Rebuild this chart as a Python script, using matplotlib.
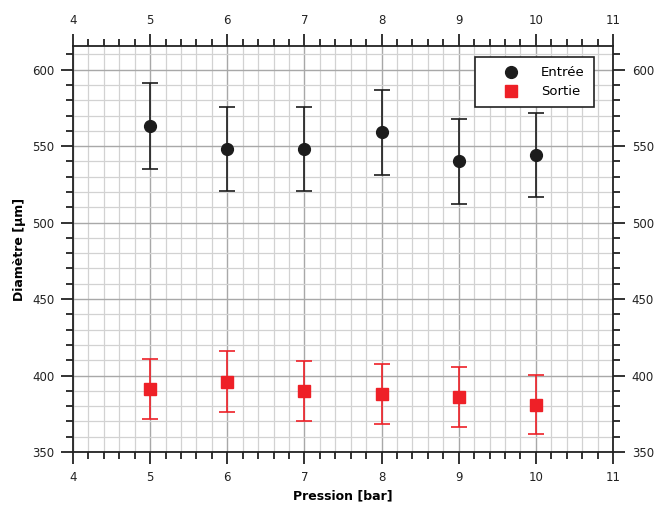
import numpy as np
import matplotlib.pyplot as plt
from matplotlib.ticker import MultipleLocator
from matplotlib.lines import Line2D

# pression values (bar)
pression = [5, 6, 7, 8, 9, 10]

# diameter at the inlet and its error
entree = [563, 548, 548, 559, 540, 544]
entree_err = [28, 27.5, 27.5, 28, 27.5, 27.5]

# diameter at the outlet and its error
sortie = [391, 396, 390, 388, 386, 381]
sortie_err = [19.7, 20, 19.5, 19.5, 19.5, 19.2]

black = '#1c1c1c'
red = '#ee2027'

fig = plt.figure(figsize=(6.56, 5.08), dpi=100)
ax = fig.add_axes([73/656, 1 - 452/508, 540/656, 406/508])

ax.errorbar(pression, entree, yerr=entree_err, fmt='o', color=black,
            ms=8.5, capsize=6, elinewidth=1.2, capthick=1.2, zorder=3)
ax.errorbar(pression, sortie, yerr=sortie_err, fmt='s', color=red,
            ms=8, capsize=6, elinewidth=1.2, capthick=1.2, zorder=3)

ax.set_xlim(4, 11)
ax.set_ylim(350, 615.5)
ax.xaxis.set_major_locator(MultipleLocator(1))
ax.xaxis.set_minor_locator(MultipleLocator(0.2))
ax.yaxis.set_major_locator(MultipleLocator(50))
ax.yaxis.set_minor_locator(MultipleLocator(10))

ax.grid(which='minor', color='#d2d2d2', lw=0.9, zorder=0)
ax.grid(which='major', color='#a8a8a8', lw=1.0, zorder=0)
ax.set_axisbelow(True)

ax.tick_params(which='both', direction='out', top=True, right=True,
               labeltop=True, labelright=True, labelsize=8.5, color='#222222',
               width=1.3, pad=5, labelcolor='#222222')
ax.tick_params(which='major', length=8.5)
ax.tick_params(which='minor', length=5)
for s in ax.spines.values():
    s.set_linewidth(1.3)
    s.set_color('#222222')

ax.set_xlabel('Pression [bar]', fontsize=9, fontweight='bold', labelpad=4)
ax.set_ylabel('Diamètre [µm]', fontsize=9, fontweight='bold', labelpad=4)

handles = [Line2D([], [], ls='none', marker='o', color=black, ms=8.5),
           Line2D([], [], ls='none', marker='s', color=red, ms=8)]
leg = ax.legend(handles, ['Entrée', 'Sortie'], loc='upper right',
                bbox_to_anchor=(0.965, 0.973), fontsize=9.5,
                frameon=True, fancybox=False, edgecolor='#222222', framealpha=1,
                handletextpad=0.3, borderpad=0.7, labelspacing=0.45,
                handlelength=4.0, borderaxespad=0)
leg.get_frame().set_linewidth(1.2)

fig.savefig('out.png', dpi=100)
